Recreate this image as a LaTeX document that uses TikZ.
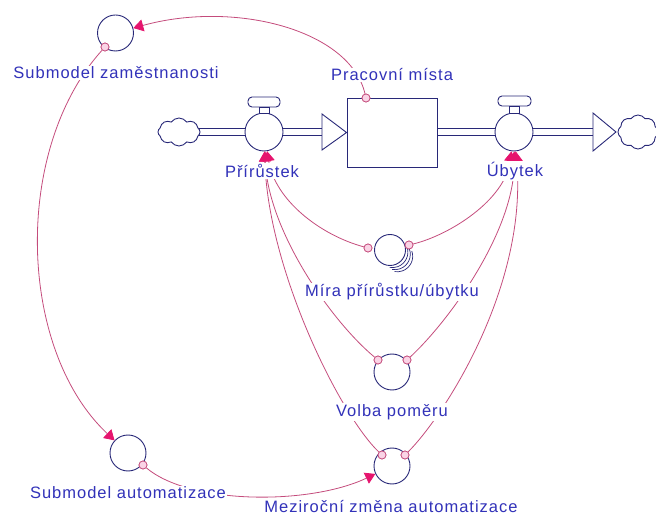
\documentclass[tikz,border=0pt]{standalone}
\usepackage{fontspec}
\setmainfont{Liberation Sans}[LetterSpace=6]
\usetikzlibrary{arrows.meta,shapes.symbols,backgrounds}

\definecolor{navyline}{RGB}{40,40,120}
\definecolor{labelblue}{RGB}{50,50,185}
\definecolor{linkpink}{RGB}{196,76,124}
\definecolor{headpink}{RGB}{230,20,110}
\definecolor{tailfill}{RGB}{250,212,230}

% a flow pipe: two parallel lines between two named points
\newcommand\pipeseg[2]{%
  \draw[shapeline] ([yshift=3.5pt]#1) -- ([yshift=3.5pt]#2);
  \draw[shapeline] ([yshift=-3.5pt]#1) -- ([yshift=-3.5pt]#2);}

\begin{document}
\begin{tikzpicture}[x=1pt,y=-1pt,
  shapeline/.style={draw=navyline, line width=0.9pt},
  aux/.style={circle, shapeline, fill=white, minimum size=36pt, inner sep=0pt},
  valve/.style={circle, shapeline, fill=white, minimum size=38pt, inner sep=0pt},
  stockbox/.style={rectangle, shapeline, fill=white, minimum width=90pt, minimum height=69pt, inner sep=0pt},
  sourcecloud/.style={cloud, cloud puffs=8, cloud puff arc=110, shapeline, fill=white, inner sep=0pt},
  flowhead/.style={shapeline, fill=white, line join=miter},
  lbl/.style={font=\fontsize{16.5}{18}\selectfont, text=labelblue, fill=white, inner sep=1pt},
  tailc/.style={circle, draw=linkpink, fill=tailfill, line width=0.7pt, minimum size=8pt, inner sep=0pt},
  link/.style={draw=linkpink, line width=0.8pt, -{Triangle[length=10pt,width=12pt,color=headpink]}}
]
\useasboundingbox (0,0) rectangle (656,518);

% ---- flow chain: source -> Prirustek -> stock -> Ubytek -> sink ----
\node[sourcecloud, minimum width=42pt, minimum height=28pt] (cloudL) at (179,132) {};
\node[sourcecloud, minimum width=40pt, minimum height=34pt] (cloudR) at (638,132) {};
\node[valve] (prv) at (264,132) {};
\node[valve] (ubv) at (514,132) {};
\node[stockbox] (stock) at (392,132.5) {};
\coordinate (inbase) at (322,132);
\coordinate (outbase) at (593,132);
\coordinate (stockmid) at (392,132);

\begin{scope}[on background layer]
  \pipeseg{cloudL.center}{prv.center}
  \pipeseg{prv.center}{inbase}
  \pipeseg{stockmid}{ubv.center}
  \pipeseg{ubv.center}{outbase}
\end{scope}
\draw[flowhead] (322,114) -- (stock.west) -- (322,150) -- cycle;
\draw[flowhead] (593,113) -- (616,132) -- (593,151) -- cycle;

% valve handles
\draw[shapeline, fill=white] (259,107) rectangle (269,113.5);
\draw[shapeline, fill=white, rounded corners=4pt] (248,97) rectangle (280,107);
\draw[shapeline, fill=white] (509,106) rectangle (519,113.5);
\draw[shapeline, fill=white, rounded corners=4pt] (498,96) rectangle (531,106);

% ---- auxiliaries ----
\node[aux] (sz) at (115.5,33) {};
\node[aux] (sa) at (128,453) {};
\node[aux, minimum size=31pt] (mira) at (390,250) {};
\node[aux] (volba) at (392,372) {};
\node[aux] (mz) at (392,466) {};
\foreach \k in {1,2,3}
  \draw[shapeline, line width=0.7pt] (390+2.4*\k,250+2.1*\k) ++(-20:15.5) arc[start angle=-20, end angle=100, radius=15.5];

% ---- connector tails ----
\node[tailc] (pmtail) at (366,98) {};
\node[tailc] (sztail) at (105,47) {};
\node[tailc] (satail) at (143,465) {};
\node[tailc] (mleft) at (368,248) {};
\node[tailc] (mright) at (409,245) {};
\node[tailc] (vleft) at (378,360) {};
\node[tailc] (vright) at (407,360) {};
\node[tailc] (zleft) at (382,455) {};
\node[tailc] (zright) at (405,455) {};

% ---- connectors ----
\draw[link] (pmtail) .. controls (350,30) and (235,0) .. (sz);
\draw[link] (sztail) .. controls (12,150) and (18,350) .. (sa);
\draw[link] (satail) .. controls (190,505) and (310,505) .. (mz);
\draw[link] (mleft) .. controls (320,235) and (275,200) .. (prv);
\draw[link] (mright) .. controls (450,235) and (505,200) .. (ubv);
\draw[link] (vleft) .. controls (330,320) and (268,230) .. (prv);
\draw[link] (vright) .. controls (450,320) and (515,230) .. (ubv);
\draw[link] (zleft) .. controls (340,415) and (268,270) .. (prv);
\draw[link] (zright) .. controls (445,415) and (528,285) .. (ubv);

% tails on top of the connector lines
\foreach \t in {pmtail,sztail,satail,mleft,mright,vleft,vright,zleft,zright}
  \node[tailc] at (\t) {};

% ---- labels ----
\node[lbl] (pmlbl) at (392,75) {Pracovní místa};
\node[lbl] (szlbl) at (116,73) {Submodel zaměstnanosti};
\node[lbl] (prlbl) at (262,171) {Přírůstek};
\node[lbl] (ublbl) at (515,171) {Úbytek};
\node[lbl] (mlbl) at (392,292) {Míra přírůstku/úbytku};
\node[lbl] (vlbl) at (392,412) {Volba poměru};
\node[lbl] (salbl) at (128,493) {Submodel automatizace};
\node[lbl] (mzlbl) at (391,507) {Meziroční změna automatizace};
\end{tikzpicture}
\end{document}
